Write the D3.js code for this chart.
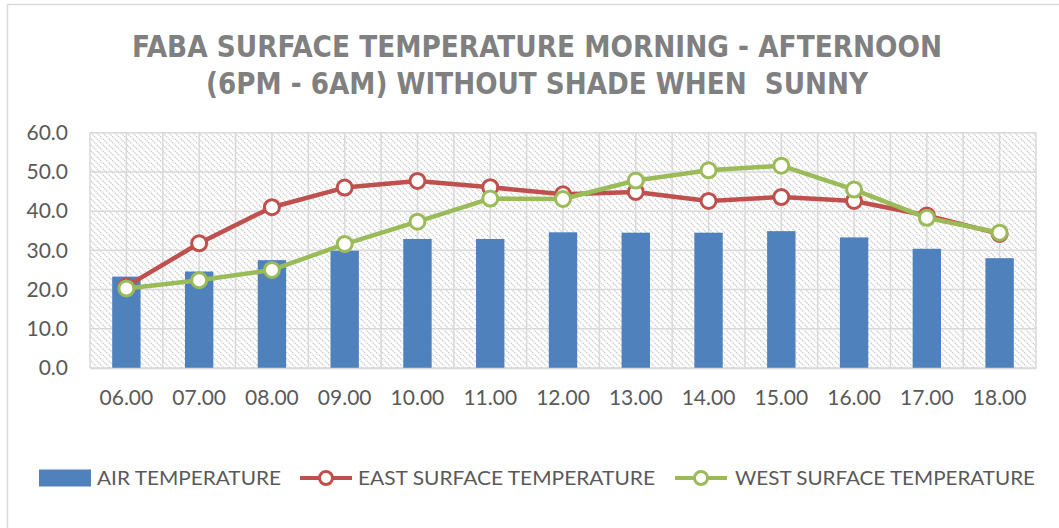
<!DOCTYPE html>
<html><head><meta charset="utf-8">
<script src="https://cdn.jsdelivr.net/npm/d3@7"></script>
<style>body{margin:0;background:#fff;}svg{display:block;} .pre{white-space:pre;}</style>
</head><body>
<script>
const categories = ["06.00","07.00","08.00","09.00","10.00","11.00","12.00","13.00","14.00","15.00","16.00","17.00","18.00"];
const airTemp  = [23.3, 24.6, 27.5, 29.9, 32.9, 32.9, 34.6, 34.5, 34.5, 34.9, 33.3, 30.4, 28.0];
const eastTemp = [20.8, 31.8, 41.0, 46.0, 47.7, 46.1, 44.3, 44.9, 42.6, 43.6, 42.6, 38.9, 34.2];
const westTemp = [20.3, 22.4, 25.0, 31.6, 37.3, 43.2, 43.1, 47.8, 50.4, 51.6, 45.5, 38.3, 34.5];
const yTicks = [0, 10, 20, 30, 40, 50, 60];
const titleLines = ["FABA SURFACE TEMPERATURE MORNING - AFTERNOON", "(6PM - 6AM) WITHOUT SHADE WHEN  SUNNY"];
const legendLabels = ["AIR TEMPERATURE", "EAST SURFACE TEMPERATURE", "WEST SURFACE TEMPERATURE"];

const W = 1059, H = 528;
const svg = d3.select("body").append("svg").attr("width", W).attr("height", H);

// outer frame
svg.append("rect").attr("x", 7.5).attr("y", 4.5).attr("width", W + 10).attr("height", H + 10)
  .attr("fill", "#fff").attr("stroke", "#d9d9d9").attr("stroke-width", 1.5);

const defs = svg.append("defs");
const pat = defs.append("pattern").attr("id", "hatch").attr("patternUnits", "userSpaceOnUse")
  .attr("width", 6).attr("height", 6);
pat.append("rect").attr("width", 6).attr("height", 6).attr("fill", "#fff");
pat.append("path").attr("d", "M-1,-1 L7,7 M-1,5 L1,7 M5,-1 L7,1")
  .attr("stroke", "#cccccc").attr("stroke-width", 1.3).attr("stroke-dasharray", "1.6,0.8");

const x0 = 90, x1 = 1036, yTop = 132.7, yBot = 368;
const x = d3.scaleBand().domain(categories).range([x0, x1]).paddingInner(0).paddingOuter(0);
const y = d3.scaleLinear().domain([0, 60]).range([yBot, yTop]);

// plot background hatch
svg.append("rect").attr("x", x0).attr("y", yTop).attr("width", x1 - x0).attr("height", yBot - yTop)
  .attr("fill", "url(#hatch)");

const grid = svg.append("g").attr("stroke", "#d9d9d9").attr("stroke-width", 1.5);
yTicks.forEach(t => grid.append("line").attr("x1", x0).attr("x2", x1).attr("y1", y(t)).attr("y2", y(t)));
const bw = x.bandwidth();
for (let i = 0; i <= categories.length * 2; i++) {
  const gx = x0 + i * bw / 2;
  grid.append("line").attr("x1", gx).attr("x2", gx).attr("y1", yTop).attr("y2", yBot);
}

// title
const title = svg.append("g").attr("font-family", "'Liberation Sans Narrow', 'DejaVu Sans Condensed', sans-serif")
  .attr("font-weight", "bold").attr("fill", "#808080").attr("font-size", 31).attr("text-anchor", "middle");
title.append("text").attr("class", "pre").attr("xml:space", "preserve").attr("x", 537).attr("y", 57).attr("textLength", 810).attr("lengthAdjust", "spacingAndGlyphs").text(titleLines[0]);
title.append("text").attr("class", "pre").attr("xml:space", "preserve").attr("x", 537).attr("y", 94).attr("textLength", 662).attr("lengthAdjust", "spacingAndGlyphs").text(titleLines[1]);

// y axis labels
const yAxis = d3.axisLeft(y).tickValues(yTicks).tickFormat(d3.format(".1f")).tickSize(0).tickPadding(22);
const yg = svg.append("g").attr("transform", `translate(${x0},0)`).call(yAxis);
yg.select(".domain").remove();
yg.selectAll("text").attr("font-family", "Lato, sans-serif").attr("font-size", 21).attr("fill", "#595959");

// bars
const barW = bw * 0.39;
svg.append("g").selectAll("rect").data(airTemp).join("rect")
  .attr("x", (d, i) => x(categories[i]) + (bw - barW) / 2)
  .attr("y", d => y(d)).attr("width", barW).attr("height", d => yBot - y(d))
  .attr("fill", "#4f81bd");

// x axis
const xAxis = d3.axisBottom(x).tickSize(0).tickPadding(22);
const xg = svg.append("g").attr("transform", `translate(0,${yBot})`).call(xAxis);
xg.select(".domain").attr("stroke", "#d9d9d9").attr("stroke-width", 1.5);
xg.selectAll("text").attr("font-family", "Lato, sans-serif").attr("font-size", 21).attr("fill", "#595959");

// lines
function drawSeries(vals, color) {
  const line = d3.line().x((d, i) => x(categories[i]) + bw / 2).y(d => y(d));
  svg.append("path").datum(vals).attr("d", line).attr("fill", "none")
    .attr("stroke", color).attr("stroke-width", 4.5).attr("stroke-linejoin", "round");
  svg.append("g").selectAll("circle").data(vals).join("circle")
    .attr("cx", (d, i) => x(categories[i]) + bw / 2).attr("cy", d => y(d)).attr("r", 7.5)
    .attr("fill", "#fff").attr("stroke", color).attr("stroke-width", 3);
}
drawSeries(eastTemp, "#c0504d");
drawSeries(westTemp, "#9bbb59");

// legend
const lg = svg.append("g").attr("font-family", "Lato, sans-serif").attr("font-size", 20).attr("fill", "#595959");
const ly = 478;
lg.append("rect").attr("x", 39).attr("y", ly - 8.5).attr("width", 52).attr("height", 17).attr("fill", "#4f81bd");
lg.append("text").attr("x", 97).attr("y", ly).attr("dy", "0.35em").attr("textLength", 184).attr("lengthAdjust", "spacingAndGlyphs").text(legendLabels[0]);
[[300, "#c0504d", legendLabels[1], 358, 297], [675, "#9bbb59", legendLabels[2], 735, 300]].forEach(([lx, c, t, tx, tl]) => {
  lg.append("line").attr("x1", lx).attr("x2", lx + 52).attr("y1", ly).attr("y2", ly).attr("stroke", c).attr("stroke-width", 4);
  lg.append("circle").attr("cx", lx + 26).attr("cy", ly).attr("r", 6.5).attr("fill", "#fff").attr("stroke", c).attr("stroke-width", 3);
  lg.append("text").attr("x", tx).attr("y", ly).attr("dy", "0.35em").attr("textLength", tl).attr("lengthAdjust", "spacingAndGlyphs").text(t);
});
</script>
</body></html>
